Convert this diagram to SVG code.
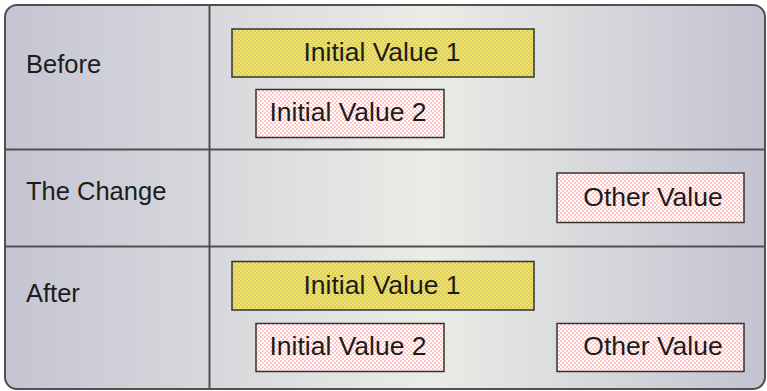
<svg xmlns="http://www.w3.org/2000/svg" width="767" height="391" viewBox="0 0 767 391">
  <defs>
    <linearGradient id="bg" x1="0" y1="0" x2="1" y2="0">
      <stop offset="0" stop-color="#c5c5d3"/>
      <stop offset="0.56" stop-color="#ebece6"/>
      <stop offset="1" stop-color="#c3c3d1"/>
    </linearGradient>
    <pattern id="dotsY" width="4" height="4" patternUnits="userSpaceOnUse">
      <rect width="4" height="4" fill="#f8e25e"/>
      <circle cx="1" cy="1" r="0.55" fill="#3d8ccc"/>
      <circle cx="3" cy="3" r="0.55" fill="#3d8ccc"/>
    </pattern>
    <pattern id="dotsP" width="4" height="4" patternUnits="userSpaceOnUse">
      <rect width="4" height="4" fill="#ffffff"/>
      <circle cx="1" cy="1" r="0.7" fill="#ff6464"/>
      <circle cx="3" cy="3" r="0.7" fill="#ff6464"/>
    </pattern>
    <style>
      .lbl { font-family: "Liberation Sans", Arial, sans-serif; font-size: 25.5px; fill: #1c1c1c; }
      .btxt { font-family: "Liberation Sans", Arial, sans-serif; font-size: 26.5px; fill: #1c1c1c; text-anchor: middle; }
      .grid { stroke: #505050; stroke-width: 2; fill: none; }
      .boxY { fill: url(#dotsY); stroke: #333; stroke-width: 1.5; }
      .boxP { fill: url(#dotsP); stroke: #333; stroke-width: 1.5; }
    </style>
  </defs>

  <g id="frame">
    <rect x="5" y="5" width="760" height="384" rx="12" ry="12" fill="url(#bg)" stroke="#505050" stroke-width="2"/>
  </g>

  <g id="connectors">
    <line class="grid" x1="209.5" y1="5" x2="209.5" y2="389"/>
    <line class="grid" x1="5" y1="149.5" x2="765" y2="149.5"/>
    <line class="grid" x1="5" y1="246.5" x2="765" y2="246.5"/>
  </g>

  <g id="label-before"><text class="lbl" x="26" y="73">Before</text></g>
  <g id="label-change"><text class="lbl" x="26" y="200">The Change</text></g>
  <g id="label-after"><text class="lbl" x="26" y="302">After</text></g>

  <g id="before-iv1">
    <rect class="boxY" x="232" y="29" width="302" height="48"/>
    <text class="btxt" x="382" y="61">Initial Value 1</text>
  </g>
  <g id="before-iv2">
    <rect class="boxP" x="256" y="89.5" width="188" height="48"/>
    <text class="btxt" x="348" y="121">Initial Value 2</text>
  </g>
  <g id="change-other">
    <rect class="boxP" x="557" y="173" width="187" height="49.5"/>
    <text class="btxt" x="653" y="206">Other Value</text>
  </g>
  <g id="after-iv1">
    <rect class="boxY" x="232" y="261.5" width="302" height="48.5"/>
    <text class="btxt" x="382" y="293.5">Initial Value 1</text>
  </g>
  <g id="after-iv2">
    <rect class="boxP" x="256" y="323.5" width="188" height="48"/>
    <text class="btxt" x="348" y="355">Initial Value 2</text>
  </g>
  <g id="after-other">
    <rect class="boxP" x="557" y="323.5" width="187" height="48"/>
    <text class="btxt" x="653" y="355">Other Value</text>
  </g>
</svg>
